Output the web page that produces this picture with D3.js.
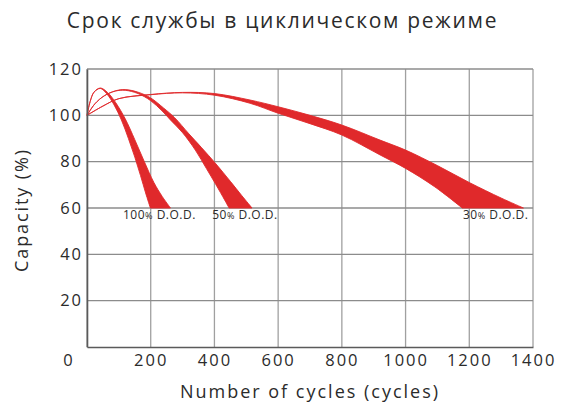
<!DOCTYPE html>
<meta charset="utf-8">
<script src="https://d3js.org/d3.v7.min.js"></script>
<style>
  body { margin: 0; background: #fff; }
  text { font-family: "Open Sans", sans-serif; fill: #2b2b2b; }
</style>
<div id="chart"></div>
<script>

// cycle life data: [cycles, capacity %]
var dodNames = ["100%", "50%", "30%"];
var labelAt = [113, 393, 1180];   // where each label starts (cycles)

var outer100 = [[0,100],[10,106],[22,110],[42,111.8],[65,109.8],[90,105.5],[120,98.5],[150,89.5],[180,80],[210,71],[236,65],[262,60]];
var inner100 = [[0,100],[10,106],[22,110],[42,111.6],[62,109.3],[85,104.5],[108,98],[130,90],[150,82],[168,74],[184,66.5],[199,60]];

var outer50 = [[0,100],[25,105],[55,108.5],[90,110.6],[120,111.1],[160,110],[200,107.5],[240,103.2],[275,99],[320,92],[360,86],[405,79],[450,71.5],[485,65.5],[518,60]];
var inner50 = [[0,100],[25,105],[55,108.5],[90,110.5],[120,110.8],[160,109.4],[200,106.3],[235,102],[262,98],[300,92.5],[340,85],[375,77],[405,70],[432,63.5],[446,60]];

var outer30 = [[0,100],[50,104],[100,107.2],[200,109],[300,109.9],[400,109.4],[512,106.6],[600,103.7],[700,100],[800,95.8],[920,89.3],[1000,85],[1100,78.3],[1200,71],[1300,64.3],[1370,60]];
var inner30 = [[0,100],[50,104],[100,107.2],[200,108.9],[300,109.7],[400,108.7],[512,105.2],[600,100.9],[700,96.4],[800,91.5],[920,82.9],[1000,77.1],[1090,69.3],[1178,60]];

var xTicks = [0, 200, 400, 600, 800, 1000, 1200, 1400];
var yTicks = [20, 40, 60, 80, 100, 120];

var bands = [
  {name: dodNames[0], outer: outer100, inner: inner100, lab: labelAt[0]},
  {name: dodNames[1], outer: outer50, inner: inner50, lab: labelAt[1]},
  {name: dodNames[2], outer: outer30, inner: inner30, lab: labelAt[2]}
];

var W = 565, H = 410;
var svg = d3.select("#chart").append("svg")
    .attr("width", W)
    .attr("height", H);

var x = d3.scaleLinear().domain([0, 1400]).range([87, 533]);
var y = d3.scaleLinear().domain([0, 120]).range([347, 69]);

// grid
svg.append("g").selectAll("line")
  .data(xTicks)
  .join("line")
    .attr("x1", d => x(d)).attr("x2", d => x(d))
    .attr("y1", y(0)).attr("y2", y(120))
    .attr("stroke", "#a0a0a0")
    .attr("stroke-width", 1.3);

svg.append("g").selectAll("line")
  .data(yTicks)
  .join("line")
    .attr("x1", x(0)).attr("x2", x(1400))
    .attr("y1", d => y(d)).attr("y2", d => y(d))
    .attr("stroke", "#8c8c8c")
    .attr("stroke-width", 1.3);

// bands
var line = d3.line()
  .x(d => x(d[0]))
  .y(d => y(d[1]))
  .curve(d3.curveCatmullRom);

svg.append("g").selectAll("path")
  .data(bands)
  .join("path")
    .attr("d", function(b) {
      var back = b.inner.slice().reverse();
      return line(b.outer) + "L" + line(back).slice(1) + "Z";
    })
    .attr("fill", "#e0292b")
    .attr("stroke", "#e0292b")
    .attr("stroke-width", 0.9)
    .attr("stroke-linejoin", "round");

// axes lines
var xAxis = svg.append("g")
  .attr("transform", "translate(0," + y(0) + ")")
  .call(d3.axisBottom(x).tickValues(xTicks.slice(1)).tickFormat(d3.format("d")).tickSize(0).tickPadding(7));
var yAxis = svg.append("g")
  .attr("transform", "translate(" + x(0) + ",0)")
  .call(d3.axisLeft(y).tickValues(yTicks).tickSize(0).tickPadding(4));

[xAxis, yAxis].forEach(function(a) {
  a.select(".domain").attr("stroke", "#5a5a5a").attr("stroke-width", 1.6);
  a.selectAll("text")
    .style("font-family", "'Open Sans', sans-serif")
    .style("font-size", "16.5px")
    .style("letter-spacing", "2px")
    .attr("fill", "#2b2b2b");
});

// origin label sits left of the corner
svg.append("text")
  .attr("x", x(0) - 19)
  .attr("y", y(0) + 19)
  .attr("text-anchor", "middle")
  .style("font-size", "16.5px")
  .text(xTicks[0]);

// band labels
var labs = svg.append("g").selectAll("text")
  .data(bands)
  .join("text")
    .attr("x", b => x(b.lab))
    .attr("y", y(60) + 11)
    .style("font-size", "12px")
    .style("letter-spacing", "0.5px");
labs.append("tspan").text(b => b.name.replace("%", ""));
labs.append("tspan").style("font-size", "9px").text("%");
labs.append("tspan").text(" D.O.D.");

// titles
svg.append("text")
  .attr("x", W / 2)
  .attr("y", 28)
  .attr("text-anchor", "middle")
  .style("font-size", "21px")
  .style("letter-spacing", "1.7px")
  .text("Срок службы в циклическом режиме");

svg.append("text")
  .attr("x", (x(0) + x(1400)) / 2)
  .attr("y", 398)
  .attr("text-anchor", "middle")
  .style("font-size", "18px")
  .style("letter-spacing", "2px")
  .text("Number of cycles (cycles)");

svg.append("text")
  .attr("transform", "translate(28," + (y(60) + 2) + ") rotate(-90)")
  .attr("text-anchor", "middle")
  .style("font-size", "18px")
  .style("letter-spacing", "1.9px")
  .text("Capacity (%)");

</script>
